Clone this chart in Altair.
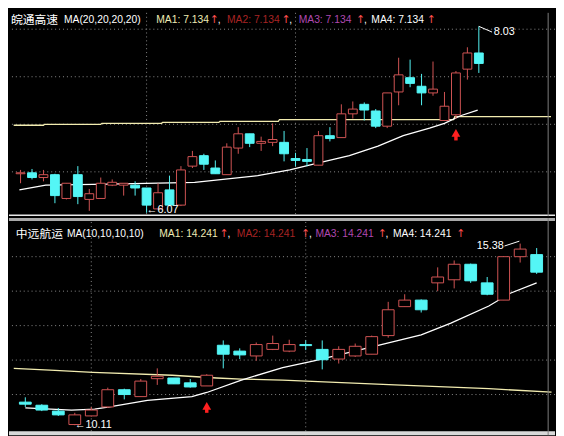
import altair as alt
import pandas as pd

# ---------------- top panel: 皖通高速 (daily candles) ----------------
top_open  = [6.48, 6.49, 6.44, 6.47, 6.22, 6.47, 6.21, 6.22, 6.36, 6.36, 6.36, 6.33, 6.11, 6.31, 6.15,
             6.56, 6.67, 6.54, 6.47, 6.75, 6.90, 6.80, 6.81, 6.81, 6.64, 6.63, 6.57, 6.88, 6.86, 7.11,
             7.21, 7.14, 6.98, 7.34, 7.49, 7.40, 7.33, 7.04, 7.10, 7.58, 7.75]
top_close = [6.49, 6.44, 6.47, 6.25, 6.38, 6.24, 6.27, 6.38, 6.39, 6.38, 6.33, 6.15, 6.28, 6.15, 6.52,
             6.66, 6.58, 6.48, 6.76, 6.90, 6.80, 6.82, 6.84, 6.69, 6.62, 6.61, 6.88, 6.85, 7.11, 7.16,
             7.15, 6.98, 7.33, 7.52, 7.43, 7.33, 7.37, 7.19, 7.54, 7.75, 7.64]
top_high  = [6.52, 6.53, 6.52, 6.48, 6.38, 6.56, 6.32, 6.44, 6.42, 6.38, 6.40, 6.33, 6.38, 6.46, 6.56,
             6.72, 6.69, 6.62, 6.80, 6.97, 6.90, 6.87, 7.01, 6.93, 6.70, 6.75, 6.93, 6.97, 7.21, 7.24,
             7.23, 7.16, 7.33, 7.70, 7.68, 7.53, 7.66, 7.34, 7.56, 7.81, 8.03]
top_low   = [6.38, 6.42, 6.40, 6.17, 6.21, 6.16, 6.09, 6.22, 6.35, 6.25, 6.25, 6.07, 6.11, 6.14, 6.14,
             6.54, 6.52, 6.48, 6.47, 6.69, 6.76, 6.72, 6.77, 6.61, 6.56, 6.56, 6.57, 6.82, 6.86, 7.06,
             7.04, 6.96, 6.96, 7.20, 7.39, 7.20, 7.30, 7.04, 7.06, 7.47, 7.54]
top_long_idx = [-0.6, 2.0, 2.1, 7.0, 7.1, 12.3, 12.4, 17.3, 17.4, 22.5, 22.6, 37.8, 37.9, 46.3]
top_long_val = [6.99, 6.99, 7.00, 7.00, 7.01, 7.01, 7.02, 7.02, 7.03, 7.03, 7.05, 7.05, 7.08, 7.08]
top_ma_idx = [-0.1, 2.2, 7.7, 15.2, 20.7, 23.5, 26.2, 28.7, 31.2, 33.4, 35.7, 37.0, 38.4, 39.9]
top_ma_val = [6.31, 6.36, 6.37, 6.39, 6.46, 6.52, 6.60, 6.67, 6.77, 6.88, 6.96, 7.01, 7.09, 7.15]
top_grid_prices = [8.0, 7.5, 7.0, 6.5]
top_grid_idx = [11, 24]
top_header = ["皖通高速", "MA(20,20,20,20)", "MA1: 7.134", "MA2: 7.134", "MA3: 7.134", "MA4: 7.134"]

# ---------------- bottom panel: 中远航运 ----------------
bot_open  = [10.78, 10.69, 10.52, 10.13, 10.38, 10.64, 11.14, 10.94, 11.46, 11.48, 11.34, 11.25,
             12.43, 12.26, 12.12, 12.31, 12.26, 12.45, 12.31, 12.03, 12.12, 12.17, 12.71, 13.55,
             13.74, 14.24, 14.33, 14.78, 14.24, 13.74, 15.00, 15.06]
bot_close = [10.72, 10.55, 10.41, 10.41, 10.55, 11.14, 11.00, 11.39, 11.53, 11.31, 11.22, 11.56,
             12.17, 12.15, 12.45, 12.48, 12.45, 12.42, 12.01, 12.31, 12.40, 12.68, 13.46, 13.74,
             13.46, 14.41, 14.78, 14.30, 13.91, 15.00, 15.22, 14.55]
bot_high  = [10.92, 10.72, 10.61, 10.47, 10.64, 11.20, 11.17, 11.45, 11.76, 11.48, 11.45, 11.59,
             12.57, 12.34, 12.51, 12.71, 12.59, 12.57, 12.57, 12.40, 12.48, 12.71, 13.69, 13.91,
             13.76, 14.69, 14.89, 14.80, 14.41, 15.00, 15.38, 15.25]
bot_low   = [10.64, 10.52, 10.38, 10.11, 10.36, 10.61, 10.86, 10.94, 11.28, 11.31, 11.20, 11.25,
             11.76, 12.03, 11.98, 12.29, 12.23, 12.29, 11.73, 11.90, 12.09, 12.17, 12.65, 13.55,
             13.38, 14.00, 14.08, 14.24, 13.88, 13.74, 14.83, 14.50]
bot_long_idx = [-0.7, 1.8, 4.1, 8.9, 11.6, 13.1, 15.6, 22.4, 28.1, 31.9]
bot_long_val = [11.76, 11.70, 11.64, 11.56, 11.48, 11.45, 11.42, 11.28, 11.17, 11.07]
bot_ma_idx = [0, 2.8, 4.2, 5.1, 7.4, 10.1, 11.0, 13.1, 15.6, 17.5, 20.4, 24.0, 25.8, 28.1, 29.4, 31.0]
bot_ma_val = [10.61, 10.55, 10.58, 10.64, 10.83, 10.94, 11.06, 11.42, 11.78, 11.98, 12.31, 12.73,
              13.07, 13.57, 13.94, 14.24]
bot_grid_prices = [15, 14, 13, 12, 11]
bot_grid_idx = [4, 17]
bot_header = ["中远航运", "MA(10,10,10,10)", "MA1: 14.241", "MA2: 14.241", "MA3: 14.241", "MA4: 14.241"]

RED = "#d25555"
CYAN = "#54f6f6"
YEL = "#f2ecb0"
GRID = "#8c8c8c"
MA_COLORS = ["#ffffff", "#ffffff", "#eeeab4", "#a82424", "#b048b0", "#ffffff"]
LATIN = "Liberation Sans"
CJK = "Noto Sans CJK SC"
W = 556


def candles(o, c, h, l):
    return pd.DataFrame({
        "i": list(range(len(o))), "open": o, "close": c, "high": h, "low": l,
        "dir": ["up" if cc >= oo else "down" for oo, cc in zip(o, c)],
    })


def one_text(t, x, y, font, size, color, align="left"):
    return alt.Chart(alt.Data(values=[{}])).mark_text(
        align=align, baseline="middle", font=font, fontSize=size, color=color
    ).encode(x=alt.value(x), y=alt.value(y), text=alt.value(t))


def header_layers(texts, xs, arrow_xs, comma_xs, y):
    layers = []
    for k, (t, x) in enumerate(zip(texts, xs)):
        if k == 0:
            layers.append(one_text(t, x, y, CJK, 12, MA_COLORS[k]))
        else:
            layers.append(one_text(t, x, y, LATIN, 10.5, MA_COLORS[k]))
    for x in arrow_xs:
        layers.append(one_text("↑", x, y, "DejaVu Sans", 11, "#ff5050", "center"))
    for x in comma_xs:
        layers.append(one_text(",", x, y, LATIN, 10.5, "#ffffff"))
    return layers


def panel(df, xdom, ydom, body, grid_p, grid_i, long_i, long_v, ma_i, ma_v):
    xs = alt.Scale(domain=xdom, nice=False, zero=False)
    ys = alt.Scale(domain=ydom, nice=False, zero=False)
    X = lambda f: alt.X(f, type="quantitative", scale=xs, axis=None)
    Y = lambda f: alt.Y(f, type="quantitative", scale=ys, axis=None)
    st = alt.Scale(domain=["up", "down"], range=[RED, CYAN])
    fl = alt.Scale(domain=["up", "down"], range=["#000000", CYAN])
    hgrid = alt.Chart(pd.DataFrame({"p": grid_p})).mark_rule(
        color=GRID, strokeDash=[1, 3], strokeWidth=1).encode(y=Y("p"))
    vgrid = alt.Chart(pd.DataFrame({"i": grid_i})).mark_rule(
        color=GRID, strokeDash=[1, 3], strokeWidth=1).encode(x=X("i"))
    longline = alt.Chart(pd.DataFrame({"i": long_i, "v": long_v})).mark_line(
        color=YEL, strokeWidth=1.3, clip=True).encode(x=X("i"), y=Y("v"))
    maline = alt.Chart(pd.DataFrame({"i": ma_i, "v": ma_v})).mark_line(
        color="#ffffff", strokeWidth=1.3, clip=True).encode(x=X("i"), y=Y("v"))
    wick = alt.Chart(df).mark_rule(strokeWidth=1).encode(
        x=X("i"), y=Y("low"), y2="high",
        stroke=alt.Stroke("dir:N", scale=st, legend=None))
    bodies = alt.Chart(df).mark_bar(size=body, strokeWidth=1).encode(
        x=X("i"), y=Y("open"), y2="close",
        fill=alt.Fill("dir:N", scale=fl, legend=None),
        stroke=alt.Stroke("dir:N", scale=st, legend=None))
    return [hgrid, vgrid, longline, maline, wick, bodies], X, Y


def note_text(X, Y, i, p, t, align):
    return alt.Chart(pd.DataFrame({"i": [i], "p": [p], "t": [t]})).mark_text(
        align=align, baseline="middle", font=LATIN, fontSize=11, color="#ffffff"
    ).encode(x=X("i"), y=Y("p"), text="t:N")


def note_line(X, Y, i1, p1, i2, p2):
    return alt.Chart(pd.DataFrame({"i": [i1], "i2": [i2], "p": [p1], "p2": [p2]})).mark_rule(
        color="#ffffff", strokeWidth=1).encode(x=X("i"), x2="i2", y=Y("p"), y2="p2")


def red_arrow(X, Y, i, p_head, p_tail):
    head = alt.Chart(pd.DataFrame({"i": [i], "p": [p_head]})).mark_point(
        shape="triangle-up", filled=True, size=80, color="#ff2020", opacity=1).encode(x=X("i"), y=Y("p"))
    stem = alt.Chart(pd.DataFrame({"i": [i], "p": [p_head], "p2": [p_tail]})).mark_rule(
        color="#ff2020", strokeWidth=3.5).encode(x=X("i"), y=Y("p"), y2="p2")
    return [stem, head]


# ---- top ----
HT = 207
top_df = candles(top_open, top_close, top_high, top_low)
tl, tX, tY = panel(top_df, [-0.581, 46.22], [6.034, 8.172], 9,
                   top_grid_prices, top_grid_idx, top_long_idx, top_long_val, top_ma_idx, top_ma_val)
tl += [note_line(tX, tY, 40, 8.03, 41.15, 7.97), note_text(tX, tY, 41.3, 7.97, "8.03", "left"),
       note_text(tX, tY, 11, 6.10, "←6.07", "left")]
tl += red_arrow(tX, tY, 38, 6.91, 6.83)
tl += header_layers(top_header, [2, 56, 150, 222, 295, 369], [209, 282, 358, 430], [212.5, 285.5, 361.5], 7)
tl += [alt.Chart(alt.Data(values=[{}])).mark_rule(color="#e8e8e8", strokeWidth=1.5).encode(y=alt.value(HT - 1)),
       alt.Chart(alt.Data(values=[{}])).mark_rule(color="#808080").encode(x=alt.value(549))]
top = alt.layer(*tl).properties(width=W, height=HT)

# ---- bottom ----
HB = 221
bot_df = candles(bot_open, bot_close, bot_high, bot_low)
bl, bX, bY = panel(bot_df, [-0.692, 31.815], [9.822, 16.119], 12,
                   bot_grid_prices, bot_grid_idx, bot_long_idx, bot_long_val, bot_ma_idx, bot_ma_val)
bl += [note_text(bX, bY, 29.0, 15.31, "15.38", "right"), note_line(bX, bY, 29.05, 15.31, 29.95, 15.45),
       note_text(bX, bY, 3, 10.11, "←10.11", "left")]
bl += red_arrow(bX, bY, 11, 10.67, 10.47)
bl += header_layers(bot_header, [7, 59, 153, 232, 312, 391], [219, 302, 380, 460], [222.5, 305.5, 383.5], 16)
bl += [alt.Chart(alt.Data(values=[{}])).mark_rect(color="#a8a8a8").encode(
           x=alt.value(0), x2=alt.value(W), y=alt.value(0), y2=alt.value(3)),
       alt.Chart(alt.Data(values=[{}])).mark_rect(color="#d8d8d8").encode(
           x=alt.value(0), x2=alt.value(W), y=alt.value(217), y2=alt.value(HB)),
       alt.Chart(alt.Data(values=[{}])).mark_rule(color="#808080").encode(x=alt.value(549))]
bottom = alt.layer(*bl).properties(width=W, height=HB)

chart = alt.vconcat(top, bottom, spacing=0).properties(
    padding=0, background="#000000"
).configure_view(stroke=None)

chart.save("out.html", embed_options={"renderer": "svg", "actions": False})
